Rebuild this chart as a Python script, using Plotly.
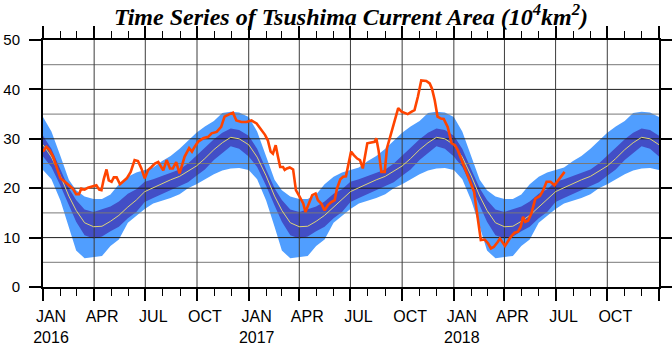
import plotly.graph_objects as go
import pandas as pd

# ---------------- data ----------------
years = [2016, 2017, 2018]

# climatology (day of year)
clim_doy = [0, 15, 31, 46, 59, 74, 90, 105, 120, 135, 151, 166,
            181, 196, 212, 227, 243, 258, 273, 288, 304, 319, 334, 349]
clim_mean = [28.8, 26.3, 22.5, 18.4, 15.5, 13.0, 12.2, 12.3, 13.3, 14.5, 16.2, 17.6,
             19.3, 20.1, 21.0, 21.7, 22.4, 23.4, 24.5, 26.0, 27.8, 29.2, 30.3, 30.0]
clim_dark_hi = [30.6, 28.0, 23.8, 20.0, 17.6, 15.7, 15.2, 15.8, 16.3, 17.3, 18.9, 19.8,
                21.3, 21.8, 22.5, 23.0, 23.8, 25.0, 26.7, 28.2, 29.9, 31.2, 32.1, 31.8]
clim_dark_lo = [26.4, 24.3, 20.5, 16.5, 13.2, 10.5, 9.8, 10.2, 11.3, 12.2, 13.9, 15.2,
                17.2, 18.0, 18.8, 19.5, 20.3, 21.2, 22.5, 23.8, 25.7, 27.2, 28.5, 28.0]
clim_light_hi = [34.4, 31.5, 26.5, 21.7, 19.6, 18.3, 17.8, 17.8, 18.7, 20.8, 22.3, 23.2,
                 23.7, 24.2, 25.5, 26.5, 28.0, 29.6, 31.2, 32.5, 33.6, 35.2, 35.5, 35.3]
clim_light_lo = [23.7, 21.8, 17.5, 12.2, 7.4, 5.8, 6.0, 6.3, 8.3, 9.6, 13.0, 14.5,
                 15.8, 16.9, 17.5, 18.0, 18.8, 20.0, 20.8, 21.8, 22.8, 23.6, 24.0, 24.1]

# observed series: days since 2016-01-01 and values
obs_day = [0, 6, 12, 18, 24, 31, 39, 47, 53, 59, 64, 68, 74, 80, 89, 95, 100, 104, 108, 113,
           117, 122, 126, 131, 137, 142, 149, 156, 163, 169, 175, 181, 187, 193, 199, 205,
           214, 220, 226, 231, 237, 243, 248, 252, 260, 265, 270, 276, 285, 294, 300, 309,
           317, 323, 332, 338, 344, 353, 362, 371, 380, 389, 395, 400, 405, 409, 414, 418,
           422, 427, 430, 434, 439, 445, 450, 456, 463, 467, 473, 479, 485, 489, 495, 501,
           507, 513, 519, 523, 529, 534, 539, 543, 548, 553, 559, 564, 569, 577, 584, 590,
           593, 597, 602, 608, 612, 617, 621, 627, 632, 638, 644, 649, 656, 661, 667, 673,
           682, 688, 692, 697, 702, 708, 713, 720, 727, 733, 738, 744, 750, 756, 762, 767,
           771, 775, 779, 786, 792, 797, 802, 809, 813, 822, 826, 832, 839, 845, 850, 854,
           858, 863, 869, 876, 884, 890, 896, 903, 910, 919, 925, 928]
obs_val = [27.4, 28.4, 27.7, 26.4, 24.3, 22.0, 21.3, 20.6, 19.9, 18.8, 18.8, 19.9, 19.7, 20.1,
           20.4, 20.6, 19.7, 19.6, 21.8, 23.8, 21.6, 21.3, 22.2, 22.2, 20.8, 21.3, 22.0, 23.3,
           25.7, 25.5, 24.0, 22.0, 23.7, 24.3, 25.0, 25.3, 23.6, 25.7, 24.0, 24.0, 25.3, 23.0,
           24.7, 26.4, 28.1, 27.4, 28.4, 29.4, 30.1, 30.4, 31.1, 31.4, 32.4, 34.5, 35.0, 35.3,
           33.7, 33.4, 33.4, 33.7, 33.1, 31.8, 30.8, 29.7, 27.4, 27.0, 28.7, 26.4, 24.3, 24.3,
           23.7, 24.0, 24.2, 23.8, 19.6, 18.4, 16.9, 15.2, 16.9, 18.6, 18.9, 17.6, 16.9, 15.5,
           16.6, 17.2, 17.6, 19.9, 21.8, 22.3, 22.4, 24.7, 27.4, 26.7, 26.0, 25.7, 24.0, 29.1,
           29.2, 29.4, 30.1, 27.7, 23.3, 23.3, 28.1, 30.1, 31.8, 33.8, 36.2, 35.5, 35.2, 35.0,
           35.5, 35.8, 38.5, 41.8, 41.7, 41.2, 40.2, 37.8, 34.5, 34.1, 34.0, 32.4, 29.1, 28.7,
           27.7, 26.0, 24.3, 22.6, 20.6, 19.3, 15.9, 12.2, 9.5, 9.6, 8.8, 7.8, 8.1, 9.1, 9.8,
           8.3, 9.1, 10.1, 11.0, 11.2, 12.2, 14.2, 13.2, 13.4, 14.9, 17.9, 18.4, 19.6, 21.3,
           21.3, 20.6, 22.0, 23.0, 23.3]

month_names = ["JAN", "APR", "JUL", "OCT"]
y_ticks = [0, 10, 20, 30, 40, 50]
y_grid_dark = [10, 20, 30, 40]
y_grid_light = [5, 15, 25, 35, 45]

# ---------------- build ----------------
start = pd.Timestamp("2016-01-01")
end = pd.Timestamp("2019-01-01")

clim_x = []
for yr in years:
    base = pd.Timestamp(f"{yr}-01-01")
    clim_x += [base + pd.Timedelta(days=d) for d in clim_doy]
clim_x.append(end)


def tile(a):
    return list(a) * len(years) + [a[0]]


obs_x = [start + pd.Timedelta(days=d) for d in obs_day]

LIGHT = "rgb(80,158,255)"
DARK = "rgb(66,78,198)"
MEAN = "rgb(222,212,120)"
OBS = "rgb(255,68,0)"

fig = go.Figure()


def band(lo, hi, color):
    fig.add_trace(go.Scatter(x=clim_x, y=tile(lo), mode="lines", line=dict(width=0),
                             hoverinfo="skip", showlegend=False))
    fig.add_trace(go.Scatter(x=clim_x, y=tile(hi), mode="lines", line=dict(width=0),
                             fill="tonexty", fillcolor=color, hoverinfo="skip",
                             showlegend=False))


band(clim_light_lo, clim_light_hi, LIGHT)
band(clim_dark_lo, clim_dark_hi, DARK)

# grid lines drawn over the shaded bands
quarters = list(pd.date_range(start, end, freq="QS"))


def hlines(vals):
    xs, ys = [], []
    for v in vals:
        xs += [start, end, None]
        ys += [v, v, None]
    return xs, ys


gx, gy = hlines(y_grid_light)
fig.add_trace(go.Scatter(x=gx, y=gy, mode="lines", line=dict(color="rgb(120,120,120)", width=1),
                         hoverinfo="skip", showlegend=False))
gx, gy = hlines(y_grid_dark)
fig.add_trace(go.Scatter(x=gx, y=gy, mode="lines", line=dict(color="rgb(30,30,30)", width=1),
                         hoverinfo="skip", showlegend=False))
vx, vy = [], []
for q in quarters[1:-1]:
    vx += [q, q, None]
    vy += [y_ticks[0], y_ticks[-1], None]
fig.add_trace(go.Scatter(x=vx, y=vy, mode="lines", line=dict(color="rgb(60,60,60)", width=1),
                         hoverinfo="skip", showlegend=False))

fig.add_trace(go.Scatter(x=clim_x, y=tile(clim_mean), mode="lines",
                         line=dict(color=MEAN, width=1), showlegend=False))
fig.add_trace(go.Scatter(x=obs_x, y=obs_val, mode="lines",
                         line=dict(color=OBS, width=2.6), showlegend=False))

ticktext = []
for q in quarters:
    name = month_names[(q.month - 1) // 3]
    if q == end:
        ticktext.append(" ")
    elif q.month == 1:
        ticktext.append(f"{name}<br>{q.year}")
    else:
        ticktext.append(name)

fig.update_layout(
    width=672, height=346,
    margin=dict(l=43, r=13, t=40, b=59, autoexpand=False),
    paper_bgcolor="white", plot_bgcolor="white",
    showlegend=False,
    title=dict(text="<b><i>Time Series of Tsushima Current Area (10<sup>4</sup>km<sup>2</sup>)</i></b>",
               font=dict(family="Liberation Serif", size=24, color="black"),
               x=0.5, xref="paper", xanchor="center",
               y=0.975, yref="container", yanchor="top"),
)
fig.update_xaxes(
    automargin=False,
    range=[start, end], tickmode="array", tickvals=quarters, ticktext=ticktext,
    ticks="outside", ticklen=12, tickwidth=1.5, tickcolor="black",
    showline=True, linecolor="black", linewidth=2, mirror="ticks",
    showgrid=False, zeroline=False,
    ticklabelshift=8, ticklabelstandoff=2,
    tickfont=dict(family="Liberation Sans", size=16, color="black"),
    minor=dict(dtick="M1", tick0="2016-01-01", ticks="outside", ticklen=7,
               tickwidth=1.2, tickcolor="black", showgrid=False),
)
fig.update_yaxes(
    automargin=False,
    range=[0, 50], tickmode="array", tickvals=y_ticks,
    ticks="outside", ticklen=12, tickwidth=1.5, tickcolor="black",
    showline=True, linecolor="black", linewidth=2, mirror="ticks",
    showgrid=False, zeroline=False,
    ticklabelstandoff=6,
    tickfont=dict(family="Liberation Sans", size=15, color="black"),
)

fig.write_html("out.html")
